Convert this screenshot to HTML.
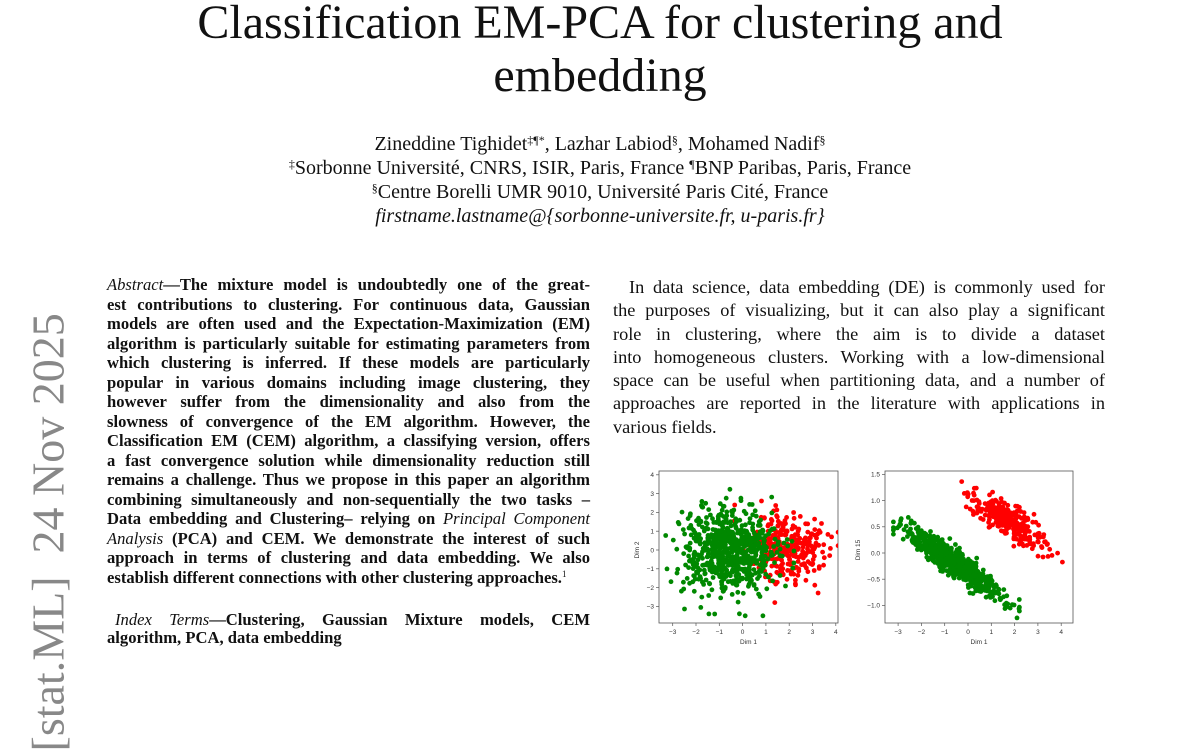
<!DOCTYPE html>
<html><head><meta charset="utf-8"><style>
body{margin:0;width:1200px;height:648px;overflow:hidden;background:#fff;font-family:"Liberation Serif",serif;color:#111;position:relative}
.a{position:absolute;white-space:nowrap}
.t{font-size:48px;left:0;width:1200px;text-align:center;line-height:55px}
.c{left:0;width:1200px;text-align:center;font-size:20px;line-height:23px}
sup{line-height:0;vertical-align:6px}
#L{position:absolute;left:107px;top:275px;width:483px;font-size:16.6px;line-height:19.5px;font-weight:bold;text-align:justify}
#L div{text-align-last:justify;height:19.5px;white-space:nowrap}
#R{position:absolute;left:613px;top:276px;width:492px;font-size:18.3px;line-height:23.3px}
#R div{text-align-last:justify;height:23.3px;white-space:nowrap}
#stamp{position:absolute;left:-152px;top:525px;width:400px;transform:rotate(-90deg);font-size:46px;color:#888;text-align:left;white-space:nowrap;transform-origin:center}
</style></head><body>
<div class="a t" style="top:-5px">Classification EM-PCA for clustering and</div>
<div class="a t" style="top:48px">embedding</div>
<div class="a c" style="top:133px">Zineddine Tighidet<sup style="font-size:12px">‡¶*</sup>, Lazhar Labiod<sup style="font-size:12px">§</sup>, Mohamed Nadif<sup style="font-size:12px">§</sup></div>
<div class="a c" style="top:157px"><sup style="font-size:12px">‡</sup>Sorbonne Université, CNRS, ISIR, Paris, France <sup style="font-size:12px">¶</sup>BNP Paribas, Paris, France</div>
<div class="a c" style="top:181px"><sup style="font-size:12px">§</sup>Centre Borelli UMR 9010, Université Paris Cité, France</div>
<div class="a c" style="top:205px;font-style:italic">firstname.lastname@{sorbonne-universite.fr, u-paris.fr}</div>
<div id="stamp">[stat.ML]&nbsp;&nbsp;24 Nov 2025</div>
<div id="L">
<div><i style="font-weight:normal">Abstract</i>—The mixture model is undoubtedly one of the great-</div>
<div>est contributions to clustering. For continuous data, Gaussian</div>
<div>models are often used and the Expectation-Maximization (EM)</div>
<div>algorithm is particularly suitable for estimating parameters from</div>
<div>which clustering is inferred. If these models are particularly</div>
<div>popular in various domains including image clustering, they</div>
<div>however suffer from the dimensionality and also from the</div>
<div>slowness of convergence of the EM algorithm. However, the</div>
<div>Classification EM (CEM) algorithm, a classifying version, offers</div>
<div>a fast convergence solution while dimensionality reduction still</div>
<div>remains a challenge. Thus we propose in this paper an algorithm</div>
<div>combining simultaneously and non-sequentially the two tasks –</div>
<div>Data embedding and Clustering– relying on <i style="font-weight:normal">Principal Component</i></div>
<div><i style="font-weight:normal">Analysis</i> (PCA) and CEM. We demonstrate the interest of such</div>
<div>approach in terms of clustering and data embedding. We also</div>
<div style="text-align-last:left">establish different connections with other clustering approaches.<sup style="font-size:9px;font-weight:normal">1</sup></div>
<div style="height:23px"></div>
<div style="padding-left:8px;height:18px"><i style="font-weight:normal">Index Terms</i>—Clustering, Gaussian Mixture models, CEM</div>
<div style="text-align-last:left">algorithm, PCA, data embedding</div>
</div>
<div id="R">
<div style="padding-left:16px">In data science, data embedding (DE) is commonly used for</div>
<div>the purposes of visualizing, but it can also play a significant</div>
<div>role in clustering, where the aim is to divide a dataset</div>
<div>into homogeneous clusters. Working with a low-dimensional</div>
<div>space can be useful when partitioning data, and a number of</div>
<div>approaches are reported in the literature with applications in</div>
<div style="text-align-last:left">various fields.</div>
</div>
<svg id="P" style="position:absolute;left:0;top:0" width="1200" height="648" font-family="Liberation Sans,sans-serif" font-size="6.5" fill="#333"></svg>
<script>
var s=12345;function r(){s=(s*16807)%2147483647;return s/2147483647}
function g(){return Math.sqrt(-2*Math.log(r()+1e-9))*Math.cos(2*Math.PI*r())}
var P=document.getElementById('P'),h='<defs><clipPath id="c1"><rect x="659" y="471" width="179" height="152"/></clipPath><clipPath id="c2"><rect x="885" y="471" width="188" height="152"/></clipPath></defs>';
function ax(x0,x1,y0,y1,xo,xs,yo,ys,yt,ylab){
h+='<rect x="'+x0+'" y="'+y0+'" width="'+(x1-x0)+'" height="'+(y1-y0)+'" fill="none" stroke="#555" stroke-width="0.8"/>';
for(var v=-3;v<=4;v++){var X=xo+v*xs;h+='<line x1="'+X+'" x2="'+X+'" y1="'+y1+'" y2="'+(y1+3)+'" stroke="#555" stroke-width="0.7"/><text x="'+X+'" y="'+(y1+11)+'" text-anchor="middle">'+(v<0?'−'+(-v):v)+'</text>';}
yt.forEach(function(v){var Y=yo-v*ys;h+='<line x1="'+(x0-3)+'" x2="'+x0+'" y1="'+Y+'" y2="'+Y+'" stroke="#555" stroke-width="0.7"/><text x="'+(x0-5)+'" y="'+(Y+2.3)+'" text-anchor="end">'+(v<0?'−'+(-v).toFixed(ylab):v.toFixed(ylab))+'</text>';});
h+='<text x="'+((x0+x1)/2)+'" y="'+(y1+21)+'" text-anchor="middle">Dim 1</text>';
}
function pt(x,y,c){h+='<circle cx="'+x.toFixed(1)+'" cy="'+y.toFixed(1)+'" r="2.4" fill="'+c+'"/>'}
function cl(a,lo,hi){return Math.max(lo,Math.min(hi,a))}
var G=[],R=[],G2=[],R2=[];
for(var i=0;i<700;i++){G.push([cl(-0.6+g()*1.0,-3.3,2.2),cl(g()*1.1,-3.5,3.9)]);}
for(var i=0;i<280;i++){R.push([cl(1.9+g()*0.8,-0.5,4.1),cl(0.1+g()*1.0,-3.1,3.8)]);}
for(var i=0;i<700;i++){var t=cl(g()*1.05,-2.6,3.3);G2.push([-0.6+t,-0.18-t*0.3+g()*0.12]);}
for(var i=0;i<280;i++){var t=cl(g()*0.85,-3,2.3);R2.push([1.75+t,0.6-t*0.3+g()*0.14]);}
ax(659,838,471,623,742.6,23.3,550,18.8,[-3,-2,-1,0,1,2,3,4],0);
h+='<g clip-path="url(#c1)">';
R.forEach(function(p){pt(742.6+p[0]*23.3,550-p[1]*18.8,'#f00')});
G.forEach(function(p){pt(742.6+p[0]*23.3,550-p[1]*18.8,'#080')});
h+='</g>';
ax(885,1073,471,623,968,23.3,553,52.4,[-1,-0.5,0,0.5,1,1.5],1);
h+='<g clip-path="url(#c2)">';
R2.forEach(function(p){pt(968+p[0]*23.3,553-p[1]*52.4,'#f00')});
G2.forEach(function(p){pt(968+p[0]*23.3,553-p[1]*52.4,'#080')});
h+='</g>';
h+='<text transform="translate(639,550) rotate(-90)" text-anchor="middle">Dim 2</text>';
h+='<text transform="translate(860,550) rotate(-90)" text-anchor="middle">Dim 15</text>';
P.innerHTML=h;
</script>
</body></html>
